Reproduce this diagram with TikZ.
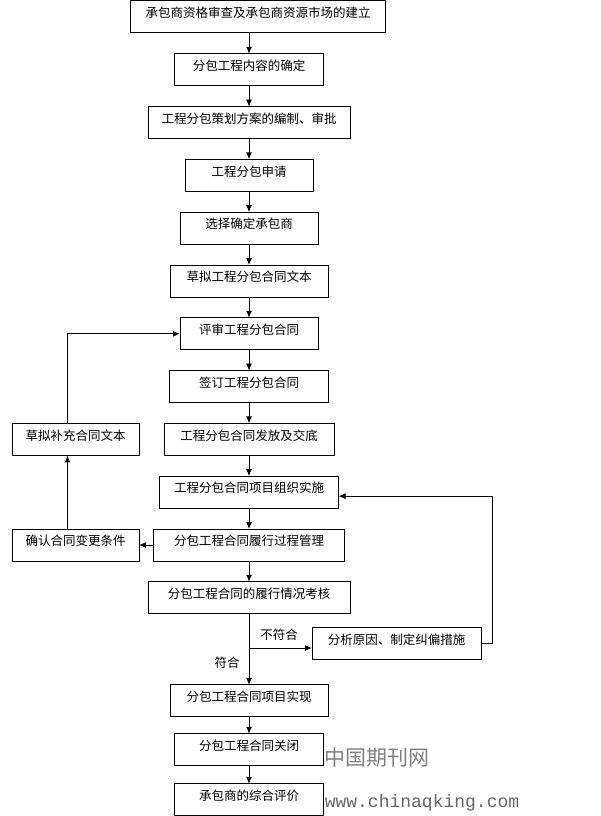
\documentclass[tikz,border=0pt]{standalone}
\usepackage{fontspec}
\usepackage{xcolor}
\newfontfamily\cjk{Noto Sans CJK SC}
\newfontfamily\wmmono{Liberation Mono}
\definecolor{wmgray}{HTML}{808080}
\usetikzlibrary{arrows.meta,positioning}

\begin{document}
\begin{tikzpicture}[->,>={Latex[length=7pt,width=6pt]},node distance=20.8pt,line width=1pt,
    boxnode/.style={rectangle, draw=black, minimum height=32pt, inner ysep=0pt, outer sep=0pt, text depth=9pt,
                    font=\cjk\fontsize{12.5pt}{14pt}\selectfont},
    tagnode/.style={inner sep=0pt, font=\cjk\fontsize{12.5pt}{14pt}\selectfont}]
  \useasboundingbox (0,0) rectangle (601pt,-816pt);

  % main chain
  \node[boxnode, minimum width=255pt]             (b1) at (258pt,-17pt) {承包商资格审查及承包商资源市场的建立};
  \node[boxnode, minimum width=149pt, xshift=-9pt] (b2) [below=of b1] {分包工程内容的确定};
  \node[boxnode, minimum width=202pt]             (b3) [below=of b2] {工程分包策划方案的编制、审批};
  \node[boxnode, minimum width=128pt]             (b4) [below=of b3] {工程分包申请};
  \node[boxnode, minimum width=138pt]             (b5) [below=of b4] {选择确定承包商};
  \node[boxnode, minimum width=158pt]             (b6) [below=of b5] {草拟工程分包合同文本};
  \node[boxnode, minimum width=138pt]             (b7) [below=of b6] {评审工程分包合同};
  \node[boxnode, minimum width=159pt]             (b8) [below=of b7] {签订工程分包合同};
  \node[boxnode, minimum width=170pt]             (b9) [below=of b8] {工程分包合同发放及交底};
  \node[boxnode, minimum width=179pt]             (b10) [below=of b9] {工程分包合同项目组织实施};
  \node[boxnode, minimum width=191pt]             (b11) [below=of b10] {分包工程合同履行过程管理};
  \node[boxnode, minimum width=202pt]             (b12) [below=of b11] {分包工程合同的履行情况考核};
  \node[boxnode, minimum width=158pt]             (b13) [below=71pt of b12] {分包工程合同项目实现};
  \node[boxnode, minimum width=149pt]             (b14) [below=17pt of b13] {分包工程合同关闭};
  \node[boxnode, minimum width=149pt]             (b15) [below=18pt of b14] {承包商的综合评价};

  % side boxes
  \node[boxnode, minimum width=127pt] (A) [left=25pt of b9] {草拟补充合同文本};
  \node[boxnode, minimum width=127pt] (B) at (A |- b11) {确认合同变更条件};
  \node[boxnode, minimum width=169pt] (C) at (396.5pt,-643.5pt) {分析原因、制定纠偏措施};

  \node[tagnode] (nofit) at (279pt,-635pt) {不符合};
  \node[tagnode] (fit)   at (227pt,-663pt) {符合};

  \path (b1.south -| b2) edge (b2)
        (b2) edge (b3)
        (b3) edge (b4)
        (b4) edge (b5)
        (b5) edge (b6)
        (b6) edge (b7)
        (b7) edge (b8)
        (b8) edge (b9)
        (b9) edge (b10)
        (b10) edge (b11)
        (b11) edge (b12)
        (b12) edge (b13)
        (b13) edge (b14)
        (b14) edge (b15);

  % feedback loops
  \coordinate (fork) at ([yshift=-4.5pt]C.west -| b12.south);
  \draw (fork) -- (fork -| C.west);
  \draw (C.east) -- ++(11pt,0) |- ([yshift=-4pt]b10.east);
  \draw (b11.west) -- (B.east);
  \draw ([xshift=-8pt]B.north) -- ([xshift=-8pt]A.south);
  \draw ([xshift=-8pt]A.north) |- (b7.west);

  % watermark
  \node[text=wmgray, font=\cjk\fontsize{21pt}{24pt}\selectfont] (wm1) at (377pt,-758pt) {中国期刊网};
  \node[text=wmgray!120, font=\wmmono\fontsize{18pt}{20pt}\selectfont] (wm2) at (422pt,-803pt) {www.chinaqking.com};
\end{tikzpicture}
\end{document}
